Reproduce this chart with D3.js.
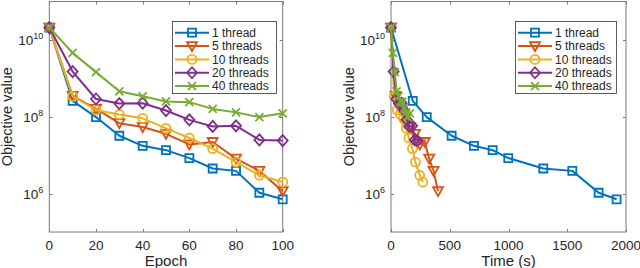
<!DOCTYPE html>
<html><head><meta charset="utf-8">
<script src="https://cdn.jsdelivr.net/npm/d3@7"></script>
<style>
body{margin:0;background:#fff;}
svg{display:block;}
text{font-family:"Liberation Sans",Arial,Helvetica,sans-serif;fill:#262626;}
</style></head>
<body>
<svg id="c" width="640" height="268"></svg>
<script>
const seriesNames = ["1 thread","5 threads","10 threads","20 threads","40 threads"];
const colors = ["#0072BD","#D95319","#EDB120","#7E2F8E","#77AC30"];
const markers = ["square","triangleDown","circle","diamond","cross"];
const epochs = [0,10,20,30,40,50,60,70,80,90,100];
const obj1  = [2.1e10,2.6e8,9.8e7,3.2e7,1.75e7,1.35e7,8.4e6,4.5e6,3.9e6,1.05e6,7.1e5];
const obj5  = [2.1e10,3.5e8,1.6e8,6.8e7,5.4e7,3.6e7,1.9e7,2.2e7,8.1e6,3.9e6,1.15e6];
const obj10 = [2.1e10,3.4e8,1.5e8,1.15e8,9.1e7,5.0e7,2.8e7,1.48e7,6.6e6,3.0e6,2.0e6];
const obj20 = [2.1e10,1.5e9,2.9e8,2.2e8,2.25e8,1.45e8,8.3e7,5.6e7,5.8e7,2.5e7,2.4e7];
const obj40 = [2.1e10,4.6e9,1.45e9,4.6e8,3.4e8,2.5e8,2.4e8,1.6e8,1.3e8,9.8e7,1.23e8];
const time1  = [0,185,304,516,706,865,998,1296,1543,1767,1920];
const time5  = [0,38,79,120,162,205,245,287,325,362,400];
const time10 = [0,26,52,80,106,130,152,182,208,244,272];
const time20 = [0,22,45,67,90,112,135,157,180,202,225];
const time40 = [0,16,32,48,64,80,96,112,128,144,160];
const epochTicks = [0,20,40,60,80,100];
const timeTicks = [0,500,1000,1500,2000];
const yTickExps = [6,8,10];

const objs = [obj1,obj5,obj10,obj20,obj40];
const times = [time1,time5,time10,time20,time40];

const svg = d3.select("#c");
const TOP = 1.5, BOTTOM = 232;

function markerPath(type){
  const p = d3.path();
  if(type==="square"){ p.rect(-4,-4,8,8); }
  else if(type==="triangleDown"){ p.moveTo(-5,-4); p.lineTo(5,-4); p.lineTo(0,5); p.closePath(); }
  else if(type==="circle"){ p.moveTo(4.5,0); p.arc(0,0,4.5,0,2*Math.PI); }
  else if(type==="diamond"){ p.moveTo(0,-5.5); p.lineTo(5,0); p.lineTo(0,5.5); p.lineTo(-5,0); p.closePath(); }
  else if(type==="cross"){ p.moveTo(-4,-4); p.lineTo(4,4); p.moveTo(-4,4); p.lineTo(4,-4); }
  return p.toString();
}

function drawPanel(opt){
  const x = d3.scaleLinear().domain(opt.xDomain).range([opt.left,opt.right]);
  const y = d3.scaleLog().domain([1e5,1e11]).range([BOTTOM,TOP]);
  const g = svg.append("g");
  g.append("rect").attr("x",opt.left).attr("y",TOP).attr("width",opt.right-opt.left).attr("height",BOTTOM-TOP)
    .attr("fill","none").attr("stroke","#7a7a7a").attr("stroke-width",1);
  const xt = g.append("g");
  opt.xTicks.forEach(t=>{
    const px = Math.round(x(t))+0.5;
    xt.append("line").attr("x1",px).attr("x2",px).attr("y1",BOTTOM).attr("y2",BOTTOM-3).attr("stroke","#7a7a7a");
    xt.append("line").attr("x1",px).attr("x2",px).attr("y1",TOP).attr("y2",TOP+3).attr("stroke","#7a7a7a");
    xt.append("text").attr("x",x(t)).attr("y",249.5).attr("text-anchor","middle").attr("font-size",13.5).text(t);
  });
  yTickExps.forEach(e=>{
    const py = Math.round(y(Math.pow(10,e)))+0.5;
    g.append("line").attr("x1",opt.left).attr("x2",opt.left+3).attr("y1",py).attr("y2",py).attr("stroke","#7a7a7a");
    g.append("line").attr("x1",opt.right).attr("x2",opt.right-3).attr("y1",py).attr("y2",py).attr("stroke","#7a7a7a");
    const tx = g.append("text").attr("x",opt.left-6).attr("y",py+4.5).attr("text-anchor","end").attr("font-size",13.5);
    tx.append("tspan").text("10");
    tx.append("tspan").attr("dy",-6).attr("font-size",9).text(e);
  });
  g.append("text").attr("x",(opt.left+opt.right)/2).attr("y",265.5).attr("text-anchor","middle").attr("font-size",15).text(opt.xLabel);
  g.append("text").attr("transform",`translate(${opt.left-37},${(TOP+BOTTOM)/2}) rotate(-90)`)
    .attr("text-anchor","middle").attr("font-size",14.5).text("Objective value");
  const line = d3.line().x(d=>x(d[0])).y(d=>y(d[1]));
  objs.forEach((ov,i)=>{
    const xs = opt.xs[i];
    const pts = ov.map((v,j)=>[xs[j],v]);
    const sg = g.append("g");
    sg.append("path").attr("d",line(pts)).attr("fill","none").attr("stroke",colors[i]).attr("stroke-width",2).attr("stroke-linejoin","round");
    sg.selectAll("path.m").data(pts).enter().append("path").attr("class","m")
      .attr("transform",d=>`translate(${x(d[0])},${y(d[1])})`)
      .attr("d",markerPath(markers[i])).attr("fill","none").attr("stroke",colors[i]).attr("stroke-width",1.8);
  });
  const lg = g.append("g");
  lg.append("rect").attr("x",opt.legX+0.5).attr("y",21.5).attr("width",opt.legW).attr("height",72)
    .attr("fill","#fff").attr("stroke","#333").attr("stroke-width",0.8);
  seriesNames.forEach((n,i)=>{
    const ly = 32.7 + i*13.35;
    lg.append("line").attr("x1",opt.legX+3).attr("x2",opt.legX+37).attr("y1",ly).attr("y2",ly)
      .attr("stroke",colors[i]).attr("stroke-width",2);
    lg.append("path").attr("transform",`translate(${opt.legX+20},${ly})`).attr("d",markerPath(markers[i]))
      .attr("fill","none").attr("stroke",colors[i]).attr("stroke-width",1.8);
    lg.append("text").attr("x",opt.legX+40).attr("y",ly+4.3).attr("font-size",12).text(n);
  });
}

drawPanel({left:49.3,right:282.7,xDomain:[0,100],xTicks:epochTicks,xLabel:"Epoch",xs:objs.map(()=>epochs),legX:172,legW:104});
drawPanel({left:391,right:626,xDomain:[0,2000],xTicks:timeTicks,xLabel:"Time (s)",xs:times,legX:515,legW:101});
</script>
</body></html>
